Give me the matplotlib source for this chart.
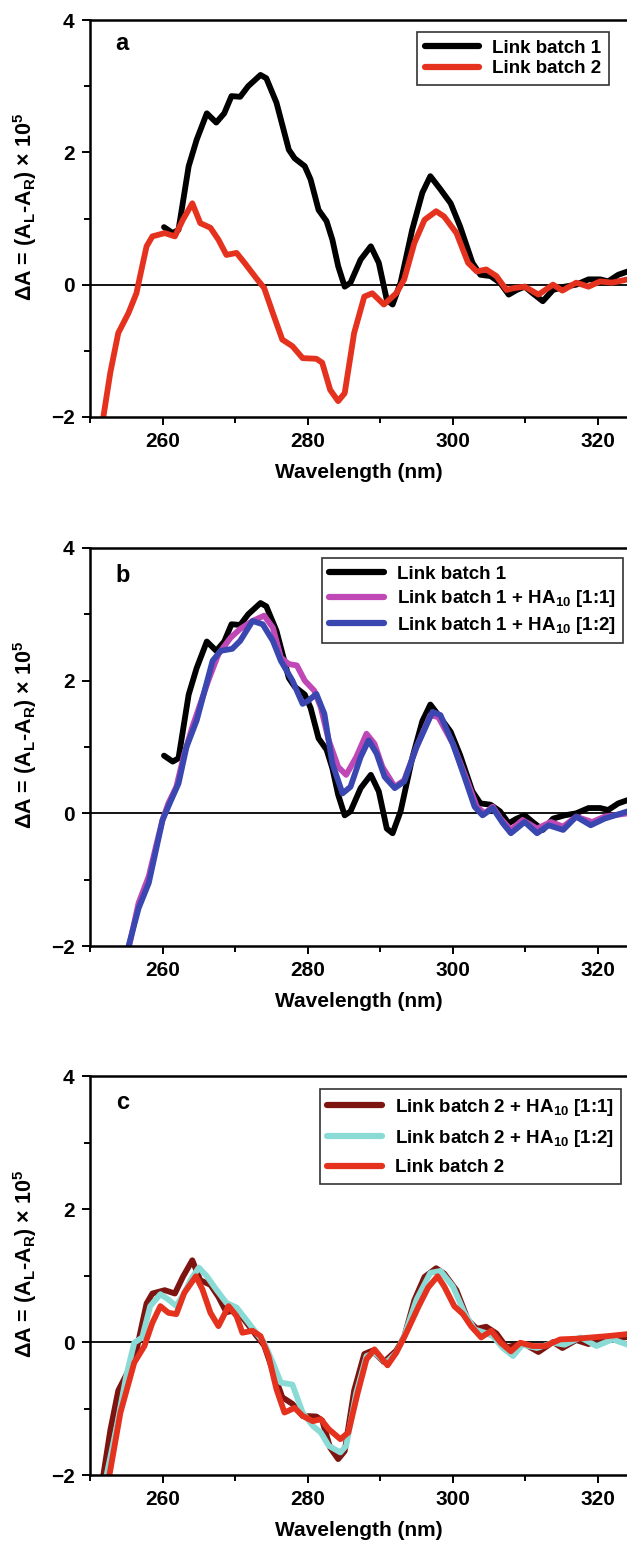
import matplotlib

matplotlib.use("Agg")
import matplotlib.pyplot as plt

plt.rcParams["font.family"] = ["Liberation Sans", "DejaVu Sans"]
plt.rcParams["font.weight"] = "bold"
plt.rcParams["mathtext.default"] = "regular"

# --- data (wavelength in nm, dA x 1e5) ---
# Link batch 1 (panels a and b)
wl_b1 = [260.2, 261.4, 262.2, 263.6, 264.7, 266.1, 267.4, 268.5, 269.5, 270.7,
         271.8, 273.5, 274.3, 275.7, 277.4, 278.2, 279.6, 280.4, 281.5, 282.6,
         283.4, 284.2, 285.1, 285.9, 287.3, 288.7, 289.8, 290.9, 291.7, 292.8,
         294.4, 295.8, 296.9, 298.3, 299.7, 301.0, 302.7, 303.8, 305.2, 306.5,
         307.7, 308.8, 309.9, 311.0, 312.4, 313.8, 315.4, 317.0, 318.7, 320.3,
         321.4, 322.8, 324.1]
cd_b1 = [0.87, 0.78, 0.83, 1.79, 2.19, 2.59, 2.45, 2.59, 2.85, 2.84,
         3.00, 3.17, 3.12, 2.75, 2.04, 1.91, 1.79, 1.59, 1.13, 0.96,
         0.68, 0.28, -0.03, 0.03, 0.38, 0.58, 0.33, -0.23, -0.30, 0.03,
         0.83, 1.39, 1.64, 1.44, 1.23, 0.88, 0.33, 0.15, 0.13, 0.03,
         -0.15, -0.08, -0.03, -0.13, -0.25, -0.08, -0.03, 0.0, 0.08, 0.08,
         0.05, 0.15, 0.20]

# Link batch 2 (panel a) / Link batch 2 + HA10 [1:1] (panel c)
wl_b2 = [251.7, 252.8, 253.9, 255.3, 256.4, 257.2, 257.8, 258.6, 260.3, 261.7,
         262.8, 264.1, 265.2, 266.6, 267.7, 268.8, 270.2, 271.3, 272.9, 274.0,
         275.2, 276.5, 277.9, 279.3, 281.2, 282.0, 283.1, 284.2, 285.1, 286.4,
         287.8, 288.9, 290.5, 292.2, 293.3, 294.7, 296.1, 297.7, 298.8, 300.5,
         302.1, 303.3, 304.6, 306.0, 307.4, 308.5, 309.9, 311.8, 313.8, 315.1,
         317.0, 318.7, 320.3, 321.9, 324.1]
cd_b2 = [-2.1, -1.33, -0.73, -0.43, -0.13, 0.28, 0.58, 0.73, 0.78, 0.73,
         0.98, 1.23, 0.93, 0.86, 0.68, 0.45, 0.48, 0.33, 0.10, -0.05,
         -0.43, -0.83, -0.93, -1.11, -1.12, -1.18, -1.59, -1.76, -1.64, -0.73,
         -0.18, -0.13, -0.30, -0.13, 0.08, 0.63, 0.98, 1.11, 1.03, 0.78,
         0.33, 0.20, 0.23, 0.13, -0.08, -0.05, -0.03, -0.15, 0.0, -0.09,
         0.03, -0.03, 0.05, 0.03, 0.08]

# Link batch 1 + HA10 [1:1] (panel b)
wl_b1_11 = [255.3, 256.7, 258.1, 259.2, 260.0, 260.8, 261.9, 263.0, 264.1, 265.2,
            266.3, 267.7, 269.4, 270.7, 272.4, 274.0, 275.2, 276.3, 277.4, 278.5,
            279.6, 280.9, 281.8, 282.9, 284.2, 285.3, 286.7, 288.1, 289.2, 290.3,
            292.0, 293.3, 295.0, 296.9, 298.0, 300.0, 301.6, 303.3, 304.4, 305.5,
            306.6, 308.0, 309.6, 311.6, 313.5, 315.2, 317.0, 319.2, 320.9, 324.1]
cd_b1_11 = [-2.05, -1.35, -0.95, -0.45, -0.10, 0.15, 0.40, 0.90, 1.30, 1.65,
            2.00, 2.40, 2.65, 2.78, 2.90, 2.98, 2.80, 2.35, 2.25, 2.23,
            2.00, 1.85, 1.60, 1.10, 0.70, 0.58, 0.85, 1.20, 1.05, 0.70,
            0.40, 0.50, 1.00, 1.48, 1.45, 1.05, 0.60, 0.10, 0.00, 0.10,
            -0.08, -0.25, -0.10, -0.23, -0.13, -0.20, -0.05, -0.13, -0.05, 0.0]

# Link batch 1 + HA10 [1:2] (panel b)
wl_b1_12 = [255.2, 256.7, 258.1, 259.2, 260.0, 261.1, 262.2, 263.3, 264.7, 265.8,
            266.9, 268.0, 269.6, 270.7, 272.4, 273.8, 275.2, 276.3, 277.9, 279.3,
            280.1, 281.2, 282.3, 283.4, 284.8, 285.9, 287.3, 288.4, 289.5, 290.6,
            292.0, 293.3, 295.0, 297.2, 298.3, 300.0, 301.6, 303.0, 304.1, 305.5,
            306.9, 308.0, 309.9, 311.6, 313.2, 315.2, 317.0, 319.0, 320.9, 324.1]
cd_b1_12 = [-2.05, -1.43, -1.05, -0.50, -0.10, 0.18, 0.45, 1.00, 1.40, 1.85,
            2.30, 2.45, 2.48, 2.60, 2.90, 2.85, 2.60, 2.30, 2.00, 1.65,
            1.70, 1.80, 1.50, 0.75, 0.30, 0.40, 0.85, 1.10, 0.90, 0.55,
            0.38, 0.48, 1.00, 1.53, 1.48, 1.05, 0.55, 0.10, -0.03, 0.08,
            -0.15, -0.30, -0.13, -0.30, -0.18, -0.25, -0.05, -0.18, -0.08, 0.03]

# Link batch 2 + HA10 [1:2] (panel c)
wl_b2_12 = [252.2, 253.7, 255.0, 256.1, 257.2, 258.3, 259.7, 260.8, 261.9, 263.0,
            263.9, 265.0, 266.1, 267.4, 268.8, 270.2, 271.5, 272.9, 274.0, 275.2,
            276.3, 277.9, 279.3, 280.7, 281.8, 282.9, 284.5, 285.3, 286.7, 288.1,
            289.2, 290.8, 292.2, 293.3, 295.0, 296.9, 298.3, 300.0, 301.6, 303.0,
            304.4, 305.5, 306.9, 308.3, 309.6, 311.6, 313.8, 315.4, 317.6, 319.8,
            322.0, 324.1]
cd_b2_12 = [-2.05, -1.26, -0.51, -0.01, 0.07, 0.54, 0.72, 0.64, 0.54, 0.74,
            0.94, 1.12, 0.99, 0.79, 0.59, 0.52, 0.34, 0.14, -0.01, -0.31,
            -0.61, -0.64, -1.06, -1.26, -1.36, -1.56, -1.66, -1.56, -0.76, -0.21,
            -0.16, -0.31, -0.16, 0.09, 0.64, 1.04, 1.07, 0.84, 0.44, 0.19,
            0.14, 0.09, -0.09, -0.21, -0.04, -0.09, -0.01, -0.04, 0.07, -0.06,
            0.04, -0.04]

# Link batch 2 (panel c)
wl_b2c = [252.6, 254.2, 256.1, 257.5, 258.6, 259.7, 260.8, 261.9, 263.0, 264.6,
          265.5, 266.6, 267.7, 269.1, 270.2, 271.0, 272.4, 273.5, 274.6, 275.7,
          276.8, 278.2, 279.3, 280.7, 281.8, 282.9, 284.5, 285.6, 286.9, 288.1,
          289.2, 291.0, 292.2, 293.6, 295.3, 296.6, 297.9, 298.8, 300.2, 301.4,
          302.5, 303.9, 305.3, 306.6, 308.0, 309.3, 311.0, 312.7, 314.8, 317.0,
          319.2, 321.4, 324.1]
cd_b2c = [-2.05, -1.06, -0.31, -0.06, 0.29, 0.54, 0.44, 0.42, 0.74, 0.99,
          0.79, 0.44, 0.24, 0.54, 0.39, 0.14, 0.17, 0.09, -0.21, -0.71,
          -1.06, -0.99, -1.11, -1.19, -1.16, -1.31, -1.46, -1.36, -0.76, -0.26,
          -0.11, -0.35, -0.16, 0.14, 0.54, 0.82, 0.99, 0.84, 0.54, 0.42,
          0.24, 0.07, 0.17, -0.01, -0.14, -0.01, -0.06, -0.06, 0.04, 0.05,
          0.07, 0.09, 0.12]

RED = "#e5321f"
panels = [
    ("a", [(wl_b1, cd_b1, "black", "Link batch 1"),
           (wl_b2, cd_b2, RED, "Link batch 2")]),
    ("b", [(wl_b1, cd_b1, "black", "Link batch 1"),
           (wl_b1_11, cd_b1_11, "#bf48b6", "Link batch 1 + HA$_{10}$ [1:1]"),
           (wl_b1_12, cd_b1_12, "#3a47b0", "Link batch 1 + HA$_{10}$ [1:2]")]),
    ("c", [(wl_b2, cd_b2, "#7d1410", "Link batch 2 + HA$_{10}$ [1:1]"),
           (wl_b2_12, cd_b2_12, "#8adbd6", "Link batch 2 + HA$_{10}$ [1:2]"),
           (wl_b2c, cd_b2c, RED, "Link batch 2")]),
]

# axes boxes in figure fraction: left, bottom, width, height
boxes = [(0.1435, 0.7294, 0.8565, 0.2576),
         (0.1435, 0.3861, 0.8565, 0.2583),
         (0.1435, 0.0428, 0.8565, 0.2589)]
legend_anchor = [(0.9665, 0.970), (0.9926, 0.975), (0.989, 0.967)]
legend_spacing = [0.2, 0.3, 0.55]
letter_y = [0.942, 0.932, 0.935]

fig = plt.figure(figsize=(6.27, 15.41), dpi=100)

for i, (letter, series) in enumerate(panels):
    ax = fig.add_axes(boxes[i])
    ax.axhline(0, color="black", lw=1.3, zorder=1)
    for wl, cd, col, lab in series:
        ax.plot(wl, cd, color=col, lw=4.2, label=lab,
                solid_joinstyle="round", solid_capstyle="round", zorder=2)
    ax.set_xlim(250, 324)
    ax.set_ylim(-2, 4)
    ax.set_xticks([260, 280, 300, 320])
    ax.set_xticks([250, 270, 290, 310], minor=True)
    ax.set_yticks([-2, 0, 2, 4])
    ax.set_yticklabels(["\u22122", "0", "2", "4"])
    ax.set_yticks([-1, 1, 3], minor=True)
    ax.tick_params(which="both", direction="out", width=1.4, labelsize=15)
    ax.tick_params(which="major", length=6, pad=5)
    ax.tick_params(which="minor", length=4)
    for lbl in ax.get_xticklabels() + ax.get_yticklabels():
        lbl.set_fontweight("bold")
    for side in ["left", "bottom", "top"]:
        ax.spines[side].set_linewidth(1.8)
    ax.spines["right"].set_visible(False)

    ax.set_xlabel("Wavelength (nm)", fontsize=15, fontweight="bold")
    ax.xaxis.set_label_coords(0.5, -0.115)
    ax.set_ylabel(r"$\Delta$A = (A$_{L}$-A$_{R}$) $\times$ 10$^{5}$",
                  fontsize=15.5, fontweight="bold")
    ax.yaxis.set_label_coords(-0.095, 0.53)

    ax.text(0.06, letter_y[i], letter, transform=ax.transAxes, fontsize=17,
            fontweight="bold", ha="center", va="center")

    leg = ax.legend(loc="upper right", bbox_to_anchor=legend_anchor[i],
                    borderaxespad=0, fancybox=False, framealpha=1,
                    edgecolor="#333333", handlelength=2.9, handletextpad=0.7,
                    labelspacing=legend_spacing[i],
                    prop={"size": 13.5, "weight": "bold"})
    leg.get_frame().set_linewidth(1.2)
    for ln in leg.get_lines():
        ln.set_linewidth(4.5)

fig.savefig("out.png", dpi=100)
